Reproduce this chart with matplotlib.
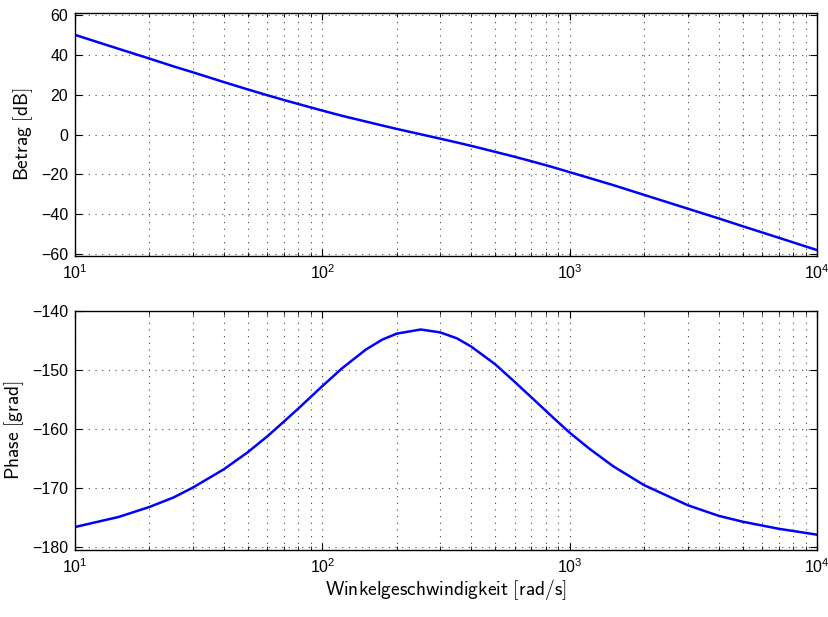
import numpy as np
import matplotlib
matplotlib.use('Agg')
import matplotlib.pyplot as plt
from matplotlib.ticker import LogLocator, NullFormatter

plt.rcParams['font.family'] = ['Liberation Sans', 'DejaVu Sans']
plt.rcParams['mathtext.fontset'] = 'cm'

# frequency [rad/s] and read-off values
omega = [10, 15, 20, 25, 30, 40, 50, 60, 70, 80, 100, 120, 150, 175, 200, 250,
         300, 350, 400, 500, 600, 700, 850, 1000, 1200, 1500, 2000, 3000,
         4000, 5000, 7000, 10000]
mag_db = [50.0, 43.0, 38.1, 34.2, 31.2, 26.3, 22.6, 19.7, 17.3, 15.3, 12.0,
          9.4, 6.5, 4.5, 2.8, 0.1, -2.1, -4.0, -5.7, -8.7, -11.2, -13.4,
          -16.3, -18.9, -21.8, -25.4, -30.3, -37.2, -42.1, -46.0, -51.8, -58.0]
phase_deg = [-176.6, -174.9, -173.2, -171.6, -169.9, -166.8, -163.9, -161.2,
             -158.7, -156.5, -152.7, -149.7, -146.5, -144.8, -143.8, -143.1,
             -143.6, -144.6, -146.0, -149.0, -152.0, -154.6, -157.9, -160.6,
             -163.3, -166.3, -169.5, -172.9, -174.7, -175.7, -176.9, -177.9]

mag_ticks = [-60, -40, -20, 0, 20, 40, 60]
phase_ticks = [-180, -170, -160, -150, -140]

fig = plt.figure(figsize=(8.29, 6.17), dpi=100)
ax1 = fig.add_axes([0.0905, 0.585, 0.895, 0.394])
ax2 = fig.add_axes([0.0905, 0.1086, 0.895, 0.387])


def style(ax):
    ax.set_xscale('log')
    ax.set_xlim(10, 1e4)
    ax.xaxis.set_major_locator(LogLocator(base=10))
    ax.xaxis.set_minor_locator(LogLocator(base=10, subs=np.arange(2, 10)))
    ax.xaxis.set_minor_formatter(NullFormatter())
    ax.tick_params(which='both', direction='in', top=True, right=True,
                   labelsize=11.5, pad=5)
    ax.tick_params(which='major', length=5, width=0.8)
    ax.tick_params(which='minor', length=3, width=0.6)
    ax.grid(True, which='major', axis='both', linestyle=(0, (1, 5)),
            color='#444444', linewidth=0.8)
    ax.grid(True, which='minor', axis='x', linestyle=(0, (1, 5)),
            color='#444444', linewidth=0.8)
    for s in ax.spines.values():
        s.set_linewidth(1.0)
        s.set_color('black')


ax1.plot(omega, mag_db, color='#0000ff', linewidth=1.8)
style(ax1)
ax1.set_ylim(-61, 61)
ax1.set_yticks(mag_ticks)
ax1.set_yticklabels(['\u221260', '\u221240', '\u221220', '0', '20', '40', '60'])
ax1.set_ylabel(r'$\mathsf{Betrag\ [dB]}$', fontsize=14)

ax2.plot(omega, phase_deg, color='#0000ff', linewidth=1.8)
style(ax2)
ax2.set_ylim(-180.5, -140)
ax2.set_yticks(phase_ticks)
ax2.set_yticklabels(['\u2212180', '\u2212170', '\u2212160', '\u2212150', '\u2212140'])
ax2.set_ylabel(r'$\mathsf{Phase\ [grad]}$', fontsize=14)
ax2.set_xlabel(r'$\mathsf{Winkelgeschwindigkeit\ [rad/s]}$', fontsize=14,
               labelpad=1)

fig.savefig('out.png', dpi=100)
